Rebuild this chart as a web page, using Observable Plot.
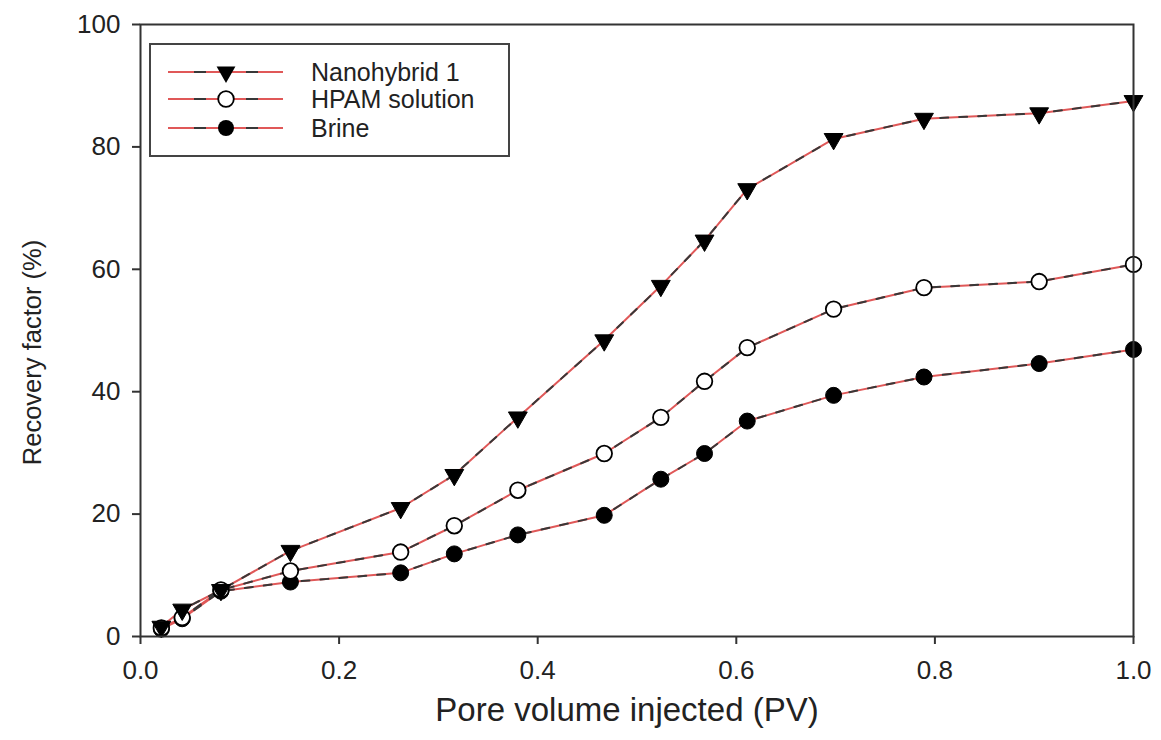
<!DOCTYPE html>
<html>
<head>
<meta charset="utf-8">
<script src="https://cdn.jsdelivr.net/npm/d3@7"></script>
<script src="https://cdn.jsdelivr.net/npm/@observablehq/plot@0.6"></script>
<style>
  html, body { margin: 0; padding: 0; background: #fff; }
  #wrap { position: relative; width: 1161px; height: 740px; font-family: "Liberation Sans", Arial, sans-serif; }
  #legend { position: absolute; left: 149px; top: 43px; }
</style>
</head>
<body>
<div id="wrap"><div id="chart"></div><div id="legend"></div></div>
<script>
const pv    = [0.021, 0.042, 0.081, 0.151, 0.262, 0.316, 0.380, 0.467, 0.524, 0.568, 0.611, 0.698, 0.789, 0.905, 1.0];
const nano  = [1.6, 4.4, 7.6, 14.0, 21.0, 26.4, 35.8, 48.4, 57.3, 64.7, 73.1, 81.3, 84.6, 85.5, 87.5];
const hpam  = [1.4, 3.1, 7.6, 10.7, 13.8, 18.1, 23.9, 29.9, 35.8, 41.7, 47.2, 53.5, 57.0, 58.0, 60.8];
const brine = [1.2, 2.9, 7.4, 8.9, 10.4, 13.5, 16.6, 19.8, 25.7, 29.9, 35.2, 39.4, 42.4, 44.6, 46.9];
const seriesNames = ["Nanohybrid 1", "HPAM solution", "Brine"];
const xTicks = [0, 0.2, 0.4, 0.6, 0.8, 1.0];
const yTicks = [0, 20, 40, 60, 80, 100];
const xTitle = "Pore volume injected (PV)";
const yTitle = "Recovery factor (%)";

const seriesValues = [nano, hpam, brine];
const data = [];
seriesNames.forEach((s, i) => pv.forEach((x, j) => data.push({series: s, pv: x, rf: seriesValues[i][j]})));

const RED = "#e05858";
const GRAY = "#383838";
const FONT = "Liberation Sans, Arial, sans-serif";

const chart = Plot.plot({
  width: 1161,
  height: 740,
  marginLeft: 140,
  marginRight: 28,
  marginTop: 24,
  marginBottom: 104,
  style: {fontFamily: FONT, background: "#fff", color: "#222"},
  x: {domain: [0, 1]},
  y: {domain: [0, 100]},
  marks: [
    Plot.line(data, {x: "pv", y: "rf", z: "series", stroke: RED, strokeWidth: 2}),
    Plot.line(data, {x: "pv", y: "rf", z: "series", stroke: GRAY, strokeWidth: 2, strokeDasharray: "8,11"}),
    Plot.dot(data.filter(d => d.series === "Brine"), {x: "pv", y: "rf", r: 8, fill: "#000", stroke: "#000", strokeWidth: 1}),
    Plot.dot(data.filter(d => d.series === "HPAM solution"), {x: "pv", y: "rf", r: 7.8, fill: "#fff", stroke: "#000", strokeWidth: 1.8}),
    Plot.dot(data.filter(d => d.series === "Nanohybrid 1"), {x: "pv", y: "rf", symbol: "triangle", rotate: 180, r: 7, fill: "#000", stroke: "#000", strokeWidth: 1}),
    Plot.frame({stroke: "#333", strokeWidth: 2}),
    Plot.axisX({ticks: xTicks, tickFormat: d3.format(".1f"), tickSize: 8, tickPadding: 16, fontSize: 26, label: null, stroke: "#333", strokeWidth: 2}),
    Plot.axisY({ticks: yTicks, tickFormat: d3.format("d"), tickSize: 8, tickPadding: 12, fontSize: 26, label: null, stroke: "#333", strokeWidth: 2}),
    Plot.text([xTitle], {frameAnchor: "bottom", dx: -10, dy: 84, fontSize: 33, fill: "#222"}),
    Plot.text([yTitle], {frameAnchor: "left", textAnchor: "middle", dx: -108, dy: 22, rotate: -90, fontSize: 25.5, fill: "#222"})
  ]
});
document.getElementById("chart").appendChild(chart);

// Legend (inside the plot area, top-left)
const lw = 361, lh = 114;
const leg = d3.select("#legend").append("svg").attr("width", lw).attr("height", lh)
  .style("font-family", FONT);
leg.append("rect").attr("x", 1).attr("y", 1).attr("width", lw - 2).attr("height", lh - 2)
  .attr("fill", "#fff").attr("stroke", "#444").attr("stroke-width", 2);
const rowsY = [29, 56, 85];
seriesNames.forEach((name, i) => {
  const g = leg.append("g").attr("transform", `translate(0,${rowsY[i]})`);
  g.append("line").attr("x1", 19).attr("x2", 134).attr("stroke", RED).attr("stroke-width", 2);
  g.append("line").attr("x1", 19).attr("x2", 134).attr("stroke", GRAY).attr("stroke-width", 2)
    .attr("stroke-dasharray", "0,26,12,40,12,100");
  if (i === 0) {
    g.append("path").attr("d", d3.symbol(d3.symbolTriangle, Math.PI * 49)()).attr("transform", "translate(77,0) rotate(180)").attr("fill", "#000");
  } else if (i === 1) {
    g.append("circle").attr("cx", 77).attr("r", 7.8).attr("fill", "#fff").attr("stroke", "#000").attr("stroke-width", 1.8);
  } else {
    g.append("circle").attr("cx", 77).attr("r", 8).attr("fill", "#000");
  }
  g.append("text").attr("x", 162).attr("dy", "0.35em").attr("font-size", 25).attr("fill", "#222").text(name);
});
</script>
</body>
</html>
